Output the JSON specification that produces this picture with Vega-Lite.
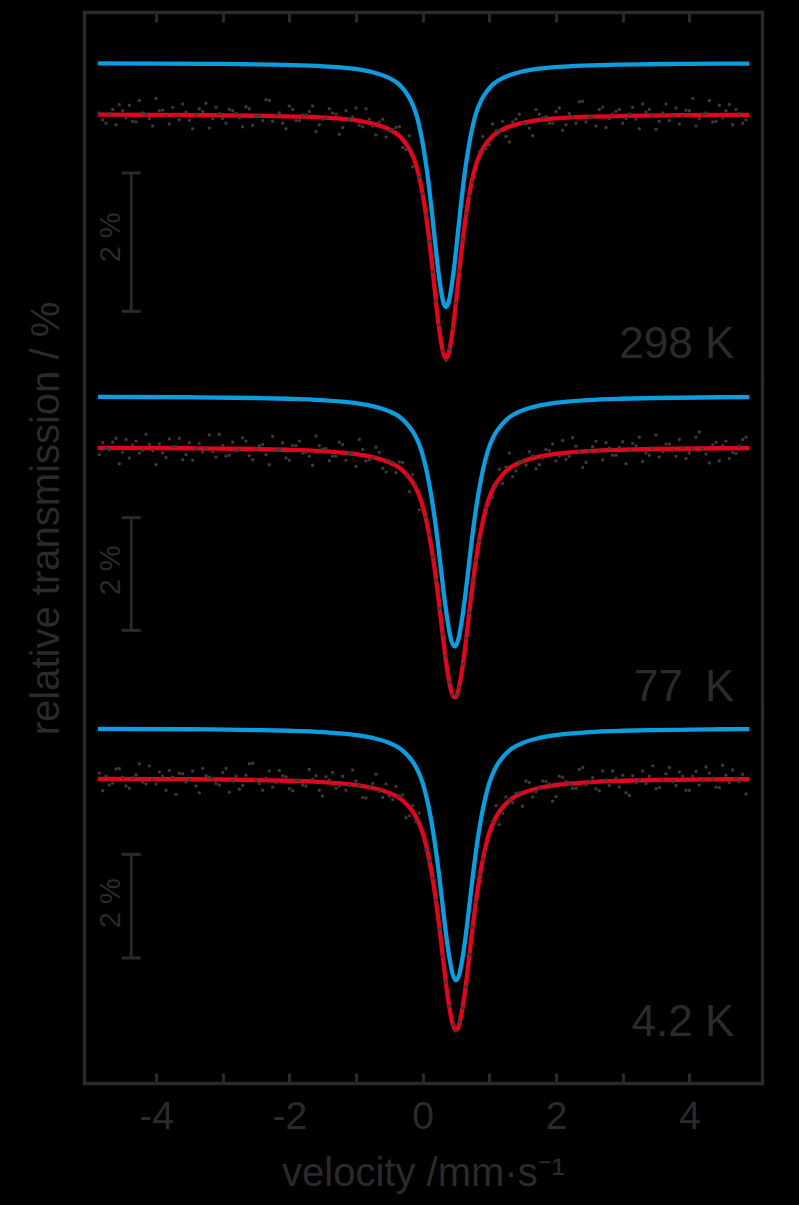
{
"$schema": "https://vega.github.io/schema/vega-lite/v6.json",
"background": "#000000",
"padding": {"left": 25, "top": 10, "right": 40, "bottom": 20},
"spacing": 0,
"bounds": "flush",
"config": {
  "view": {"stroke": null},
  "axis": {"domainColor": "#2a2a2a", "domainWidth": 3.3, "domainCap": "square", "tickColor": "#2a2a2a", "tickWidth": 3, "tickSize": -10, "grid": false,
           "labelColor": "#2a2a2a", "titleColor": "#2a2a2a", "labelFont": "Liberation Sans", "titleFont": "Liberation Sans",
           "labelFontSize": 39, "titleFontSize": 40, "titleFontWeight": "normal", "labelOverlap": false, "labelFlush": false},
  "text": {"font": "Liberation Sans", "color": "#2a2a2a"}
},
"datasets": {
"fit": [
{"p":1,"s":"fit","v":-4.87,"t":99.994},{"p":1,"s":"fit","v":-3.17,"t":99.987},{"p":1,"s":"fit","v":-2.29,"t":99.976},{"p":1,"s":"fit","v":-1.85,"t":99.966},{"p":1,"s":"fit","v":-1.41,"t":99.947},{"p":1,"s":"fit","v":-0.97,"t":99.907},{"p":1,"s":"fit","v":-0.75,"t":99.866},{"p":1,"s":"fit","v":-0.53,"t":99.795},{"p":1,"s":"fit","v":-0.354,"t":99.69},{"p":1,"s":"fit","v":-0.266,"t":99.594},{"p":1,"s":"fit","v":-0.178,"t":99.46},{"p":1,"s":"fit","v":-0.09,"t":99.238},{"p":1,"s":"fit","v":-0.002,"t":98.853},{"p":1,"s":"fit","v":0.042,"t":98.592},{"p":1,"s":"fit","v":0.086,"t":98.282},{"p":1,"s":"fit","v":0.13,"t":97.918},{"p":1,"s":"fit","v":0.174,"t":97.52},{"p":1,"s":"fit","v":0.218,"t":97.125},{"p":1,"s":"fit","v":0.262,"t":96.797},{"p":1,"s":"fit","v":0.306,"t":96.557},{"p":1,"s":"fit","v":0.35,"t":96.472},{"p":1,"s":"fit","v":0.394,"t":96.557},{"p":1,"s":"fit","v":0.438,"t":96.797},{"p":1,"s":"fit","v":0.482,"t":97.125},{"p":1,"s":"fit","v":0.526,"t":97.52},{"p":1,"s":"fit","v":0.57,"t":97.918},{"p":1,"s":"fit","v":0.614,"t":98.282},{"p":1,"s":"fit","v":0.658,"t":98.592},{"p":1,"s":"fit","v":0.702,"t":98.853},{"p":1,"s":"fit","v":0.79,"t":99.238},{"p":1,"s":"fit","v":0.878,"t":99.46},{"p":1,"s":"fit","v":0.966,"t":99.594},{"p":1,"s":"fit","v":1.054,"t":99.69},{"p":1,"s":"fit","v":1.23,"t":99.795},{"p":1,"s":"fit","v":1.45,"t":99.866},{"p":1,"s":"fit","v":1.67,"t":99.907},{"p":1,"s":"fit","v":2.11,"t":99.947},{"p":1,"s":"fit","v":2.55,"t":99.966},{"p":1,"s":"fit","v":2.99,"t":99.976},{"p":1,"s":"fit","v":3.87,"t":99.987},{"p":1,"s":"fit","v":4.9,"t":99.992},
{"p":1,"s":"sub","v":-4.87,"t":100.736},{"p":1,"s":"sub","v":-3.17,"t":100.729},{"p":1,"s":"sub","v":-2.29,"t":100.718},{"p":1,"s":"sub","v":-1.85,"t":100.708},{"p":1,"s":"sub","v":-1.41,"t":100.689},{"p":1,"s":"sub","v":-0.97,"t":100.649},{"p":1,"s":"sub","v":-0.75,"t":100.608},{"p":1,"s":"sub","v":-0.53,"t":100.537},{"p":1,"s":"sub","v":-0.354,"t":100.432},{"p":1,"s":"sub","v":-0.266,"t":100.336},{"p":1,"s":"sub","v":-0.178,"t":100.202},{"p":1,"s":"sub","v":-0.09,"t":99.98},{"p":1,"s":"sub","v":-0.002,"t":99.595},{"p":1,"s":"sub","v":0.042,"t":99.334},{"p":1,"s":"sub","v":0.086,"t":99.024},{"p":1,"s":"sub","v":0.13,"t":98.66},{"p":1,"s":"sub","v":0.174,"t":98.262},{"p":1,"s":"sub","v":0.218,"t":97.867},{"p":1,"s":"sub","v":0.262,"t":97.539},{"p":1,"s":"sub","v":0.306,"t":97.299},{"p":1,"s":"sub","v":0.35,"t":97.214},{"p":1,"s":"sub","v":0.394,"t":97.299},{"p":1,"s":"sub","v":0.438,"t":97.539},{"p":1,"s":"sub","v":0.482,"t":97.867},{"p":1,"s":"sub","v":0.526,"t":98.262},{"p":1,"s":"sub","v":0.57,"t":98.66},{"p":1,"s":"sub","v":0.614,"t":99.024},{"p":1,"s":"sub","v":0.658,"t":99.334},{"p":1,"s":"sub","v":0.702,"t":99.595},{"p":1,"s":"sub","v":0.79,"t":99.98},{"p":1,"s":"sub","v":0.878,"t":100.202},{"p":1,"s":"sub","v":0.966,"t":100.336},{"p":1,"s":"sub","v":1.054,"t":100.432},{"p":1,"s":"sub","v":1.23,"t":100.537},{"p":1,"s":"sub","v":1.45,"t":100.608},{"p":1,"s":"sub","v":1.67,"t":100.649},{"p":1,"s":"sub","v":2.11,"t":100.689},{"p":1,"s":"sub","v":2.55,"t":100.708},{"p":1,"s":"sub","v":2.99,"t":100.718},{"p":1,"s":"sub","v":3.87,"t":100.729},{"p":1,"s":"sub","v":4.9,"t":100.734},
{"p":2,"s":"fit","v":-4.87,"t":99.991},{"p":2,"s":"fit","v":-3.52,"t":99.983},{"p":2,"s":"fit","v":-2.52,"t":99.97},{"p":2,"s":"fit","v":-2.02,"t":99.957},{"p":2,"s":"fit","v":-1.52,"t":99.933},{"p":2,"s":"fit","v":-1.02,"t":99.882},{"p":2,"s":"fit","v":-0.77,"t":99.831},{"p":2,"s":"fit","v":-0.52,"t":99.742},{"p":2,"s":"fit","v":-0.32,"t":99.609},{"p":2,"s":"fit","v":-0.22,"t":99.489},{"p":2,"s":"fit","v":-0.12,"t":99.321},{"p":2,"s":"fit","v":-0.02,"t":99.041},{"p":2,"s":"fit","v":0.08,"t":98.557},{"p":2,"s":"fit","v":0.13,"t":98.228},{"p":2,"s":"fit","v":0.18,"t":97.838},{"p":2,"s":"fit","v":0.23,"t":97.38},{"p":2,"s":"fit","v":0.28,"t":96.879},{"p":2,"s":"fit","v":0.33,"t":96.381},{"p":2,"s":"fit","v":0.38,"t":95.968},{"p":2,"s":"fit","v":0.43,"t":95.667},{"p":2,"s":"fit","v":0.48,"t":95.56},{"p":2,"s":"fit","v":0.53,"t":95.667},{"p":2,"s":"fit","v":0.58,"t":95.968},{"p":2,"s":"fit","v":0.63,"t":96.381},{"p":2,"s":"fit","v":0.68,"t":96.879},{"p":2,"s":"fit","v":0.73,"t":97.38},{"p":2,"s":"fit","v":0.78,"t":97.838},{"p":2,"s":"fit","v":0.83,"t":98.228},{"p":2,"s":"fit","v":0.88,"t":98.557},{"p":2,"s":"fit","v":0.98,"t":99.041},{"p":2,"s":"fit","v":1.08,"t":99.321},{"p":2,"s":"fit","v":1.18,"t":99.489},{"p":2,"s":"fit","v":1.28,"t":99.609},{"p":2,"s":"fit","v":1.48,"t":99.742},{"p":2,"s":"fit","v":1.73,"t":99.831},{"p":2,"s":"fit","v":1.98,"t":99.882},{"p":2,"s":"fit","v":2.48,"t":99.933},{"p":2,"s":"fit","v":2.98,"t":99.957},{"p":2,"s":"fit","v":3.48,"t":99.97},{"p":2,"s":"fit","v":4.48,"t":99.983},{"p":2,"s":"fit","v":4.9,"t":99.986},
{"p":2,"s":"sub","v":-4.87,"t":100.896},{"p":2,"s":"sub","v":-3.52,"t":100.888},{"p":2,"s":"sub","v":-2.52,"t":100.875},{"p":2,"s":"sub","v":-2.02,"t":100.862},{"p":2,"s":"sub","v":-1.52,"t":100.838},{"p":2,"s":"sub","v":-1.02,"t":100.787},{"p":2,"s":"sub","v":-0.77,"t":100.736},{"p":2,"s":"sub","v":-0.52,"t":100.647},{"p":2,"s":"sub","v":-0.32,"t":100.514},{"p":2,"s":"sub","v":-0.22,"t":100.394},{"p":2,"s":"sub","v":-0.12,"t":100.226},{"p":2,"s":"sub","v":-0.02,"t":99.946},{"p":2,"s":"sub","v":0.08,"t":99.462},{"p":2,"s":"sub","v":0.13,"t":99.133},{"p":2,"s":"sub","v":0.18,"t":98.743},{"p":2,"s":"sub","v":0.23,"t":98.285},{"p":2,"s":"sub","v":0.28,"t":97.784},{"p":2,"s":"sub","v":0.33,"t":97.286},{"p":2,"s":"sub","v":0.38,"t":96.873},{"p":2,"s":"sub","v":0.43,"t":96.572},{"p":2,"s":"sub","v":0.48,"t":96.465},{"p":2,"s":"sub","v":0.53,"t":96.572},{"p":2,"s":"sub","v":0.58,"t":96.873},{"p":2,"s":"sub","v":0.63,"t":97.286},{"p":2,"s":"sub","v":0.68,"t":97.784},{"p":2,"s":"sub","v":0.73,"t":98.285},{"p":2,"s":"sub","v":0.78,"t":98.743},{"p":2,"s":"sub","v":0.83,"t":99.133},{"p":2,"s":"sub","v":0.88,"t":99.462},{"p":2,"s":"sub","v":0.98,"t":99.946},{"p":2,"s":"sub","v":1.08,"t":100.226},{"p":2,"s":"sub","v":1.18,"t":100.394},{"p":2,"s":"sub","v":1.28,"t":100.514},{"p":2,"s":"sub","v":1.48,"t":100.647},{"p":2,"s":"sub","v":1.73,"t":100.736},{"p":2,"s":"sub","v":1.98,"t":100.787},{"p":2,"s":"sub","v":2.48,"t":100.838},{"p":2,"s":"sub","v":2.98,"t":100.862},{"p":2,"s":"sub","v":3.48,"t":100.875},{"p":2,"s":"sub","v":4.48,"t":100.888},{"p":2,"s":"sub","v":4.9,"t":100.891},
{"p":3,"s":"fit","v":-4.87,"t":99.99},{"p":3,"s":"fit","v":-3.5,"t":99.982},{"p":3,"s":"fit","v":-2.5,"t":99.967},{"p":3,"s":"fit","v":-2.0,"t":99.953},{"p":3,"s":"fit","v":-1.5,"t":99.927},{"p":3,"s":"fit","v":-1.0,"t":99.871},{"p":3,"s":"fit","v":-0.75,"t":99.815},{"p":3,"s":"fit","v":-0.5,"t":99.718},{"p":3,"s":"fit","v":-0.3,"t":99.572},{"p":3,"s":"fit","v":-0.2,"t":99.441},{"p":3,"s":"fit","v":-0.1,"t":99.256},{"p":3,"s":"fit","v":0.0,"t":98.95},{"p":3,"s":"fit","v":0.1,"t":98.42},{"p":3,"s":"fit","v":0.15,"t":98.061},{"p":3,"s":"fit","v":0.2,"t":97.633},{"p":3,"s":"fit","v":0.25,"t":97.133},{"p":3,"s":"fit","v":0.3,"t":96.583},{"p":3,"s":"fit","v":0.35,"t":96.039},{"p":3,"s":"fit","v":0.4,"t":95.587},{"p":3,"s":"fit","v":0.45,"t":95.257},{"p":3,"s":"fit","v":0.5,"t":95.14},{"p":3,"s":"fit","v":0.55,"t":95.257},{"p":3,"s":"fit","v":0.6,"t":95.587},{"p":3,"s":"fit","v":0.65,"t":96.039},{"p":3,"s":"fit","v":0.7,"t":96.583},{"p":3,"s":"fit","v":0.75,"t":97.133},{"p":3,"s":"fit","v":0.8,"t":97.633},{"p":3,"s":"fit","v":0.85,"t":98.061},{"p":3,"s":"fit","v":0.9,"t":98.42},{"p":3,"s":"fit","v":1.0,"t":98.95},{"p":3,"s":"fit","v":1.1,"t":99.256},{"p":3,"s":"fit","v":1.2,"t":99.441},{"p":3,"s":"fit","v":1.3,"t":99.572},{"p":3,"s":"fit","v":1.5,"t":99.718},{"p":3,"s":"fit","v":1.75,"t":99.815},{"p":3,"s":"fit","v":2.0,"t":99.871},{"p":3,"s":"fit","v":2.5,"t":99.927},{"p":3,"s":"fit","v":3.0,"t":99.953},{"p":3,"s":"fit","v":3.5,"t":99.967},{"p":3,"s":"fit","v":4.5,"t":99.982},{"p":3,"s":"fit","v":4.9,"t":99.984},
{"p":3,"s":"sub","v":-4.87,"t":100.954},{"p":3,"s":"sub","v":-3.5,"t":100.946},{"p":3,"s":"sub","v":-2.5,"t":100.931},{"p":3,"s":"sub","v":-2.0,"t":100.917},{"p":3,"s":"sub","v":-1.5,"t":100.891},{"p":3,"s":"sub","v":-1.0,"t":100.835},{"p":3,"s":"sub","v":-0.75,"t":100.779},{"p":3,"s":"sub","v":-0.5,"t":100.682},{"p":3,"s":"sub","v":-0.3,"t":100.536},{"p":3,"s":"sub","v":-0.2,"t":100.405},{"p":3,"s":"sub","v":-0.1,"t":100.22},{"p":3,"s":"sub","v":0.0,"t":99.914},{"p":3,"s":"sub","v":0.1,"t":99.384},{"p":3,"s":"sub","v":0.15,"t":99.025},{"p":3,"s":"sub","v":0.2,"t":98.597},{"p":3,"s":"sub","v":0.25,"t":98.097},{"p":3,"s":"sub","v":0.3,"t":97.547},{"p":3,"s":"sub","v":0.35,"t":97.003},{"p":3,"s":"sub","v":0.4,"t":96.551},{"p":3,"s":"sub","v":0.45,"t":96.221},{"p":3,"s":"sub","v":0.5,"t":96.104},{"p":3,"s":"sub","v":0.55,"t":96.221},{"p":3,"s":"sub","v":0.6,"t":96.551},{"p":3,"s":"sub","v":0.65,"t":97.003},{"p":3,"s":"sub","v":0.7,"t":97.547},{"p":3,"s":"sub","v":0.75,"t":98.097},{"p":3,"s":"sub","v":0.8,"t":98.597},{"p":3,"s":"sub","v":0.85,"t":99.025},{"p":3,"s":"sub","v":0.9,"t":99.384},{"p":3,"s":"sub","v":1.0,"t":99.914},{"p":3,"s":"sub","v":1.1,"t":100.22},{"p":3,"s":"sub","v":1.2,"t":100.405},{"p":3,"s":"sub","v":1.3,"t":100.536},{"p":3,"s":"sub","v":1.5,"t":100.682},{"p":3,"s":"sub","v":1.75,"t":100.779},{"p":3,"s":"sub","v":2.0,"t":100.835},{"p":3,"s":"sub","v":2.5,"t":100.891},{"p":3,"s":"sub","v":3.0,"t":100.917},{"p":3,"s":"sub","v":3.5,"t":100.931},{"p":3,"s":"sub","v":4.5,"t":100.946},{"p":3,"s":"sub","v":4.9,"t":100.948}
],
"pts": [
{"p":1,"v":-4.85,"t":100.02},{"p":1,"v":-4.75,"t":99.87},{"p":1,"v":-4.65,"t":100.07},{"p":1,"v":-4.55,"t":100.14},{"p":1,"v":-4.45,"t":99.95},{"p":1,"v":-4.35,"t":99.9},{"p":1,"v":-4.25,"t":100.2},{"p":1,"v":-4.15,"t":100.0},{"p":1,"v":-4.05,"t":99.83},{"p":1,"v":-3.95,"t":100.05},
{"p":1,"v":-3.85,"t":99.97},{"p":1,"v":-3.75,"t":100.1},{"p":1,"v":-3.65,"t":99.92},{"p":1,"v":-3.55,"t":100.03},{"p":1,"v":-3.45,"t":99.79},{"p":1,"v":-3.35,"t":100.08},{"p":1,"v":-3.25,"t":100.16},{"p":1,"v":-3.15,"t":99.94},{"p":1,"v":-3.05,"t":100.01},{"p":1,"v":-2.95,"t":99.87},
{"p":1,"v":-2.85,"t":100.05},{"p":1,"v":-2.75,"t":99.95},{"p":1,"v":-2.65,"t":100.11},{"p":1,"v":-2.55,"t":99.84},{"p":1,"v":-2.45,"t":99.98},{"p":1,"v":-2.35,"t":100.21},{"p":1,"v":-2.25,"t":99.9},{"p":1,"v":-2.15,"t":100.02},{"p":1,"v":-2.05,"t":99.79},{"p":1,"v":-1.95,"t":100.07},
{"p":1,"v":-1.85,"t":99.91},{"p":1,"v":-1.75,"t":99.99},{"p":1,"v":-1.65,"t":100.12},{"p":1,"v":-1.55,"t":99.85},{"p":1,"v":-1.45,"t":99.94},{"p":1,"v":-1.35,"t":100.02},{"p":1,"v":-1.25,"t":99.71},{"p":1,"v":-1.15,"t":100.05},{"p":1,"v":-1.05,"t":99.96},{"p":1,"v":-0.95,"t":99.84},
{"p":1,"v":-0.85,"t":100.08},{"p":1,"v":-0.75,"t":99.83},{"p":1,"v":-0.65,"t":99.89},{"p":1,"v":-0.55,"t":99.67},{"p":1,"v":-0.45,"t":99.78},{"p":1,"v":-0.35,"t":99.82},{"p":1,"v":-0.25,"t":99.49},{"p":1,"v":-0.15,"t":99.24},{"p":1,"v":-0.05,"t":99.09},{"p":1,"v":0.05,"t":98.54},
{"p":1,"v":0.15,"t":97.72},{"p":1,"v":0.25,"t":96.95},{"p":1,"v":0.35,"t":96.44},{"p":1,"v":0.45,"t":96.91},{"p":1,"v":0.55,"t":97.73},{"p":1,"v":0.65,"t":98.57},{"p":1,"v":0.75,"t":99.02},{"p":1,"v":0.85,"t":99.46},{"p":1,"v":0.95,"t":99.5},{"p":1,"v":1.05,"t":99.86},
{"p":1,"v":1.15,"t":99.76},{"p":1,"v":1.25,"t":99.68},{"p":1,"v":1.35,"t":99.89},{"p":1,"v":1.45,"t":100.0},{"p":1,"v":1.55,"t":99.86},{"p":1,"v":1.65,"t":99.69},{"p":1,"v":1.75,"t":100.0},{"p":1,"v":1.85,"t":99.97},{"p":1,"v":1.95,"t":99.87},{"p":1,"v":2.05,"t":100.09},
{"p":1,"v":2.15,"t":99.85},{"p":1,"v":2.25,"t":99.97},{"p":1,"v":2.35,"t":100.18},{"p":1,"v":2.45,"t":99.89},{"p":1,"v":2.55,"t":99.96},{"p":1,"v":2.65,"t":100.07},{"p":1,"v":2.75,"t":99.81},{"p":1,"v":2.85,"t":100.0},{"p":1,"v":2.95,"t":100.07},{"p":1,"v":3.05,"t":99.94},
{"p":1,"v":3.15,"t":100.1},{"p":1,"v":3.25,"t":99.79},{"p":1,"v":3.35,"t":100.03},{"p":1,"v":3.45,"t":99.99},{"p":1,"v":3.55,"t":99.9},{"p":1,"v":3.65,"t":100.15},{"p":1,"v":3.75,"t":99.97},{"p":1,"v":3.85,"t":99.86},{"p":1,"v":3.95,"t":100.06},{"p":1,"v":4.05,"t":100.23},
{"p":1,"v":4.15,"t":99.94},{"p":1,"v":4.25,"t":100.02},{"p":1,"v":4.35,"t":99.89},{"p":1,"v":4.45,"t":100.13},{"p":1,"v":4.55,"t":100.05},{"p":1,"v":4.65,"t":99.85},{"p":1,"v":4.75,"t":100.01},{"p":1,"v":4.85,"t":99.92},
{"p":1,"v":0.0,"t":98.85},{"p":1,"v":0.1,"t":98.16},{"p":1,"v":0.2,"t":97.3},{"p":1,"v":0.3,"t":96.58},{"p":1,"v":0.4,"t":96.61},{"p":1,"v":0.5,"t":97.27},{"p":1,"v":0.6,"t":98.19},{"p":1,"v":0.7,"t":98.82},
{"p":1,"v":-4.8,"t":99.92},{"p":1,"v":-4.7,"t":100.01},{"p":1,"v":-4.6,"t":99.85},{"p":1,"v":-4.5,"t":100.05},{"p":1,"v":-4.4,"t":100.13},{"p":1,"v":-4.3,"t":99.89},{"p":1,"v":-4.2,"t":100.02},{"p":1,"v":-4.1,"t":99.94},{"p":1,"v":-4.0,"t":100.23},{"p":1,"v":-3.9,"t":100.06},
{"p":1,"v":-3.8,"t":99.86},{"p":1,"v":-3.7,"t":99.97},{"p":1,"v":-3.6,"t":100.15},{"p":1,"v":-3.5,"t":99.91},{"p":1,"v":-3.4,"t":100.0},{"p":1,"v":-3.3,"t":100.04},{"p":1,"v":-3.2,"t":99.8},{"p":1,"v":-3.1,"t":100.1},{"p":1,"v":-3.0,"t":99.94},{"p":1,"v":-2.9,"t":100.07},
{"p":1,"v":-2.8,"t":100.01},{"p":1,"v":-2.7,"t":99.82},{"p":1,"v":-2.6,"t":100.08},{"p":1,"v":-2.5,"t":99.97},{"p":1,"v":-2.4,"t":99.91},{"p":1,"v":-2.3,"t":100.2},{"p":1,"v":-2.2,"t":99.99},{"p":1,"v":-2.1,"t":99.87},{"p":1,"v":-2.0,"t":100.12},{"p":1,"v":-1.9,"t":99.91},
{"p":1,"v":-1.8,"t":99.99},{"p":1,"v":-1.7,"t":100.04},{"p":1,"v":-1.6,"t":99.75},{"p":1,"v":-1.5,"t":99.93},{"p":1,"v":-1.4,"t":100.08},{"p":1,"v":-1.3,"t":100.0},{"p":1,"v":-1.2,"t":99.81},{"p":1,"v":-1.1,"t":99.92},{"p":1,"v":-1.0,"t":100.09},{"p":1,"v":-0.9,"t":99.82},
{"p":1,"v":-0.8,"t":99.93},{"p":1,"v":-0.7,"t":99.7},{"p":1,"v":-0.6,"t":99.93},{"p":1,"v":-0.5,"t":99.76},{"p":1,"v":-0.4,"t":99.81},{"p":1,"v":-0.3,"t":99.52},{"p":1,"v":-0.2,"t":99.69},
{"p":1,"v":0.9,"t":99.68},{"p":1,"v":1.0,"t":99.56},{"p":1,"v":1.1,"t":99.76},{"p":1,"v":1.2,"t":99.9},{"p":1,"v":1.3,"t":99.6},{"p":1,"v":1.4,"t":99.93},{"p":1,"v":1.5,"t":99.87},{"p":1,"v":1.6,"t":99.8},{"p":1,"v":1.7,"t":100.07},{"p":1,"v":1.8,"t":99.95},
{"p":1,"v":1.9,"t":99.87},{"p":1,"v":2.0,"t":100.04},{"p":1,"v":2.1,"t":99.77},{"p":1,"v":2.2,"t":100.01},{"p":1,"v":2.3,"t":99.87},{"p":1,"v":2.4,"t":100.19},{"p":1,"v":2.5,"t":99.96},{"p":1,"v":2.6,"t":99.83},{"p":1,"v":2.7,"t":100.1},{"p":1,"v":2.8,"t":99.94},
{"p":1,"v":2.9,"t":100.04},{"p":1,"v":3.0,"t":99.87},{"p":1,"v":3.1,"t":100.0},{"p":1,"v":3.2,"t":99.93},{"p":1,"v":3.3,"t":100.15},{"p":1,"v":3.4,"t":100.07},{"p":1,"v":3.5,"t":99.78},{"p":1,"v":3.6,"t":100.02},{"p":1,"v":3.7,"t":99.91},{"p":1,"v":3.8,"t":100.09},
{"p":1,"v":3.9,"t":99.97},{"p":1,"v":4.0,"t":100.05},{"p":1,"v":4.1,"t":99.83},{"p":1,"v":4.2,"t":100.0},{"p":1,"v":4.3,"t":100.2},{"p":1,"v":4.4,"t":99.9},{"p":1,"v":4.5,"t":99.95},{"p":1,"v":4.6,"t":100.14},{"p":1,"v":4.7,"t":100.07},{"p":1,"v":4.8,"t":99.87},
{"p":2,"v":-4.85,"t":99.87},{"p":2,"v":-4.75,"t":99.98},{"p":2,"v":-4.65,"t":100.09},{"p":2,"v":-4.55,"t":99.71},{"p":2,"v":-4.45,"t":100.14},{"p":2,"v":-4.35,"t":100.04},{"p":2,"v":-4.25,"t":99.9},{"p":2,"v":-4.15,"t":100.23},{"p":2,"v":-4.05,"t":99.94},{"p":2,"v":-3.95,"t":100.06},
{"p":2,"v":-3.85,"t":99.82},{"p":2,"v":-3.75,"t":100.01},{"p":2,"v":-3.65,"t":100.16},{"p":2,"v":-3.55,"t":99.87},{"p":2,"v":-3.45,"t":99.77},{"p":2,"v":-3.35,"t":100.07},{"p":2,"v":-3.25,"t":99.99},{"p":2,"v":-3.15,"t":99.92},{"p":2,"v":-3.05,"t":100.23},{"p":2,"v":-2.95,"t":99.84},
{"p":2,"v":-2.85,"t":100.09},{"p":2,"v":-2.75,"t":99.95},{"p":2,"v":-2.65,"t":100.11},{"p":2,"v":-2.55,"t":99.78},{"p":2,"v":-2.45,"t":100.03},{"p":2,"v":-2.35,"t":99.87},{"p":2,"v":-2.25,"t":100.19},{"p":2,"v":-2.15,"t":99.96},{"p":2,"v":-2.05,"t":99.81},{"p":2,"v":-1.95,"t":100.03},
{"p":2,"v":-1.85,"t":100.11},{"p":2,"v":-1.75,"t":99.91},{"p":2,"v":-1.65,"t":99.68},{"p":2,"v":-1.55,"t":100.03},{"p":2,"v":-1.45,"t":99.98},{"p":2,"v":-1.35,"t":99.84},{"p":2,"v":-1.25,"t":100.09},{"p":2,"v":-1.15,"t":99.77},{"p":2,"v":-1.05,"t":99.91},{"p":2,"v":-0.95,"t":100.14},
{"p":2,"v":-0.85,"t":99.76},{"p":2,"v":-0.75,"t":99.81},{"p":2,"v":-0.65,"t":99.91},{"p":2,"v":-0.55,"t":99.56},{"p":2,"v":-0.45,"t":99.73},{"p":2,"v":-0.35,"t":99.74},{"p":2,"v":-0.25,"t":99.49},{"p":2,"v":-0.15,"t":99.52},{"p":2,"v":-0.05,"t":98.89},{"p":2,"v":0.05,"t":98.76},
{"p":2,"v":0.15,"t":98.06},{"p":2,"v":0.25,"t":97.14},{"p":2,"v":0.35,"t":96.3},{"p":2,"v":0.45,"t":95.62},{"p":2,"v":0.55,"t":95.74},{"p":2,"v":0.65,"t":96.61},{"p":2,"v":0.75,"t":97.65},{"p":2,"v":0.85,"t":98.34},{"p":2,"v":0.95,"t":98.93},{"p":2,"v":1.05,"t":99.11},
{"p":2,"v":1.15,"t":99.61},{"p":2,"v":1.25,"t":99.65},{"p":2,"v":1.35,"t":99.48},{"p":2,"v":1.45,"t":99.75},{"p":2,"v":1.55,"t":99.68},{"p":2,"v":1.65,"t":99.84},{"p":2,"v":1.75,"t":99.69},{"p":2,"v":1.85,"t":99.96},{"p":2,"v":1.95,"t":100.06},{"p":2,"v":2.05,"t":99.84},
{"p":2,"v":2.15,"t":99.79},{"p":2,"v":2.25,"t":100.17},{"p":2,"v":2.35,"t":99.93},{"p":2,"v":2.45,"t":99.73},{"p":2,"v":2.55,"t":100.01},{"p":2,"v":2.65,"t":99.92},{"p":2,"v":2.75,"t":100.08},{"p":2,"v":2.85,"t":99.86},{"p":2,"v":2.95,"t":100.0},{"p":2,"v":3.05,"t":99.71},
{"p":2,"v":3.15,"t":100.07},{"p":2,"v":3.25,"t":100.18},{"p":2,"v":3.35,"t":99.9},{"p":2,"v":3.45,"t":99.99},{"p":2,"v":3.55,"t":99.83},{"p":2,"v":3.65,"t":100.06},{"p":2,"v":3.75,"t":99.94},{"p":2,"v":3.85,"t":100.14},{"p":2,"v":3.95,"t":99.8},{"p":2,"v":4.05,"t":99.98},
{"p":2,"v":4.15,"t":100.27},{"p":2,"v":4.25,"t":99.88},{"p":2,"v":4.35,"t":100.04},{"p":2,"v":4.45,"t":99.76},{"p":2,"v":4.55,"t":100.11},{"p":2,"v":4.65,"t":99.91},{"p":2,"v":4.75,"t":100.02},{"p":2,"v":4.85,"t":100.18},
{"p":2,"v":0.1,"t":98.45},{"p":2,"v":0.2,"t":97.64},{"p":2,"v":0.3,"t":96.69},{"p":2,"v":0.4,"t":95.83},{"p":2,"v":0.5,"t":95.61},{"p":2,"v":0.6,"t":96.15},{"p":2,"v":0.7,"t":97.06},{"p":2,"v":0.8,"t":98.0},
{"p":2,"v":-4.8,"t":100.08},{"p":2,"v":-4.7,"t":99.96},{"p":2,"v":-4.6,"t":100.16},{"p":2,"v":-4.5,"t":99.91},{"p":2,"v":-4.4,"t":99.81},{"p":2,"v":-4.3,"t":100.11},{"p":2,"v":-4.2,"t":99.95},{"p":2,"v":-4.1,"t":100.05},{"p":2,"v":-4.0,"t":99.69},{"p":2,"v":-3.9,"t":99.9},
{"p":2,"v":-3.8,"t":100.15},{"p":2,"v":-3.7,"t":100.01},{"p":2,"v":-3.6,"t":99.78},{"p":2,"v":-3.5,"t":100.08},{"p":2,"v":-3.4,"t":99.97},{"p":2,"v":-3.3,"t":99.92},{"p":2,"v":-3.2,"t":100.22},{"p":2,"v":-3.1,"t":99.83},{"p":2,"v":-3.0,"t":100.03},{"p":2,"v":-2.9,"t":99.86},
{"p":2,"v":-2.8,"t":99.94},{"p":2,"v":-2.7,"t":100.17},{"p":2,"v":-2.6,"t":99.85},{"p":2,"v":-2.5,"t":99.98},{"p":2,"v":-2.4,"t":100.05},{"p":2,"v":-2.3,"t":99.69},{"p":2,"v":-2.2,"t":99.94},{"p":2,"v":-2.1,"t":100.08},{"p":2,"v":-2.0,"t":99.77},{"p":2,"v":-1.9,"t":100.03},
{"p":2,"v":-1.8,"t":99.9},{"p":2,"v":-1.7,"t":99.84},{"p":2,"v":-1.6,"t":100.2},{"p":2,"v":-1.5,"t":99.97},{"p":2,"v":-1.4,"t":99.76},{"p":2,"v":-1.3,"t":99.84},{"p":2,"v":-1.2,"t":100.05},{"p":2,"v":-1.1,"t":99.89},{"p":2,"v":-1.0,"t":99.66},{"p":2,"v":-0.9,"t":99.96},
{"p":2,"v":-0.8,"t":99.78},{"p":2,"v":-0.7,"t":100.0},{"p":2,"v":-0.6,"t":99.63},{"p":2,"v":-0.5,"t":99.76},{"p":2,"v":-0.4,"t":99.55},{"p":2,"v":-0.3,"t":99.73},{"p":2,"v":-0.2,"t":99.21},{"p":2,"v":-0.1,"t":99.33},
{"p":2,"v":1.1,"t":99.31},{"p":2,"v":1.2,"t":99.36},{"p":2,"v":1.3,"t":99.9},{"p":2,"v":1.4,"t":99.58},{"p":2,"v":1.5,"t":99.76},{"p":2,"v":1.6,"t":99.92},{"p":2,"v":1.7,"t":99.62},{"p":2,"v":1.8,"t":99.81},{"p":2,"v":1.9,"t":99.94},{"p":2,"v":2.0,"t":99.76},
{"p":2,"v":2.1,"t":100.12},{"p":2,"v":2.2,"t":99.84},{"p":2,"v":2.3,"t":100.02},{"p":2,"v":2.4,"t":99.64},{"p":2,"v":2.5,"t":99.93},{"p":2,"v":2.6,"t":100.11},{"p":2,"v":2.7,"t":99.78},{"p":2,"v":2.8,"t":99.99},{"p":2,"v":2.9,"t":99.86},{"p":2,"v":3.0,"t":100.1},
{"p":2,"v":3.1,"t":99.94},{"p":2,"v":3.2,"t":100.03},{"p":2,"v":3.3,"t":99.75},{"p":2,"v":3.4,"t":99.86},{"p":2,"v":3.5,"t":100.22},{"p":2,"v":3.6,"t":99.92},{"p":2,"v":3.7,"t":100.06},{"p":2,"v":3.8,"t":99.84},{"p":2,"v":3.9,"t":100.0},{"p":2,"v":4.0,"t":99.9},
{"p":2,"v":4.1,"t":100.18},{"p":2,"v":4.2,"t":99.97},{"p":2,"v":4.3,"t":99.72},{"p":2,"v":4.4,"t":100.09},{"p":2,"v":4.5,"t":100.03},{"p":2,"v":4.6,"t":99.8},{"p":2,"v":4.7,"t":99.89},{"p":2,"v":4.8,"t":100.14},
{"p":3,"v":-4.85,"t":100.1},{"p":3,"v":-4.75,"t":100.04},{"p":3,"v":-4.65,"t":99.91},{"p":3,"v":-4.55,"t":100.19},{"p":3,"v":-4.45,"t":99.85},{"p":3,"v":-4.35,"t":100.01},{"p":3,"v":-4.25,"t":100.28},{"p":3,"v":-4.15,"t":99.89},{"p":3,"v":-4.05,"t":99.97},{"p":3,"v":-3.95,"t":100.12},
{"p":3,"v":-3.85,"t":99.77},{"p":3,"v":-3.75,"t":100.02},{"p":3,"v":-3.65,"t":100.1},{"p":3,"v":-3.55,"t":99.93},{"p":3,"v":-3.45,"t":100.14},{"p":3,"v":-3.35,"t":99.72},{"p":3,"v":-3.25,"t":100.05},{"p":3,"v":-3.15,"t":99.99},{"p":3,"v":-3.05,"t":99.87},{"p":3,"v":-2.95,"t":100.19},
{"p":3,"v":-2.85,"t":99.95},{"p":3,"v":-2.75,"t":99.79},{"p":3,"v":-2.65,"t":100.06},{"p":3,"v":-2.55,"t":100.29},{"p":3,"v":-2.45,"t":99.9},{"p":3,"v":-2.35,"t":100.0},{"p":3,"v":-2.25,"t":99.83},{"p":3,"v":-2.15,"t":100.15},{"p":3,"v":-2.05,"t":100.03},{"p":3,"v":-1.95,"t":99.76},
{"p":3,"v":-1.85,"t":99.97},{"p":3,"v":-1.75,"t":99.85},{"p":3,"v":-1.65,"t":99.98},{"p":3,"v":-1.55,"t":99.77},{"p":3,"v":-1.45,"t":100.03},{"p":3,"v":-1.35,"t":100.11},{"p":3,"v":-1.25,"t":99.85},{"p":3,"v":-1.15,"t":99.77},{"p":3,"v":-1.05,"t":100.16},{"p":3,"v":-0.95,"t":99.87},
{"p":3,"v":-0.85,"t":99.62},{"p":3,"v":-0.75,"t":99.9},{"p":3,"v":-0.65,"t":99.75},{"p":3,"v":-0.55,"t":99.89},{"p":3,"v":-0.45,"t":99.59},{"p":3,"v":-0.35,"t":99.66},{"p":3,"v":-0.25,"t":99.24},{"p":3,"v":-0.15,"t":99.47},{"p":3,"v":-0.05,"t":99.33},{"p":3,"v":0.05,"t":98.62},
{"p":3,"v":0.15,"t":98.07},{"p":3,"v":0.25,"t":97.09},{"p":3,"v":0.35,"t":96.07},{"p":3,"v":0.45,"t":95.25},{"p":3,"v":0.55,"t":95.31},{"p":3,"v":0.65,"t":95.98},{"p":3,"v":0.75,"t":97.13},{"p":3,"v":0.85,"t":98.15},{"p":3,"v":0.95,"t":98.58},{"p":3,"v":1.05,"t":99.17},
{"p":3,"v":1.15,"t":99.11},{"p":3,"v":1.25,"t":99.64},{"p":3,"v":1.35,"t":99.53},{"p":3,"v":1.45,"t":99.72},{"p":3,"v":1.55,"t":99.95},{"p":3,"v":1.65,"t":99.64},{"p":3,"v":1.75,"t":99.8},{"p":3,"v":1.85,"t":99.94},{"p":3,"v":1.95,"t":99.56},{"p":3,"v":2.05,"t":100.04},
{"p":3,"v":2.15,"t":99.94},{"p":3,"v":2.25,"t":99.81},{"p":3,"v":2.35,"t":100.17},{"p":3,"v":2.45,"t":99.87},{"p":3,"v":2.55,"t":100.01},{"p":3,"v":2.65,"t":99.76},{"p":3,"v":2.75,"t":99.97},{"p":3,"v":2.85,"t":100.14},{"p":3,"v":2.95,"t":99.83},{"p":3,"v":3.05,"t":99.72},
{"p":3,"v":3.15,"t":100.05},{"p":3,"v":3.25,"t":99.97},{"p":3,"v":3.35,"t":99.9},{"p":3,"v":3.45,"t":100.24},{"p":3,"v":3.55,"t":99.82},{"p":3,"v":3.65,"t":100.09},{"p":3,"v":3.75,"t":99.94},{"p":3,"v":3.85,"t":100.12},{"p":3,"v":3.95,"t":99.77},{"p":3,"v":4.05,"t":100.04},
{"p":3,"v":4.15,"t":99.87},{"p":3,"v":4.25,"t":100.22},{"p":3,"v":4.35,"t":99.98},{"p":3,"v":4.45,"t":99.82},{"p":3,"v":4.55,"t":100.06},{"p":3,"v":4.65,"t":100.16},{"p":3,"v":4.75,"t":99.94},{"p":3,"v":4.85,"t":99.7},
{"p":3,"v":0.1,"t":98.4},{"p":3,"v":0.2,"t":97.65},{"p":3,"v":0.3,"t":96.57},{"p":3,"v":0.4,"t":95.6},{"p":3,"v":0.5,"t":95.13},{"p":3,"v":0.6,"t":95.57},{"p":3,"v":0.7,"t":96.6},{"p":3,"v":0.8,"t":97.62},{"p":3,"v":0.9,"t":98.44},
{"p":3,"v":-4.8,"t":99.76},{"p":3,"v":-4.7,"t":99.87},{"p":3,"v":-4.6,"t":100.18},{"p":3,"v":-4.5,"t":100.02},{"p":3,"v":-4.4,"t":99.81},{"p":3,"v":-4.3,"t":100.07},{"p":3,"v":-4.2,"t":99.93},{"p":3,"v":-4.1,"t":100.24},{"p":3,"v":-4.0,"t":99.89},{"p":3,"v":-3.9,"t":100.04},
{"p":3,"v":-3.8,"t":100.15},{"p":3,"v":-3.7,"t":99.69},{"p":3,"v":-3.6,"t":100.09},{"p":3,"v":-3.5,"t":99.97},{"p":3,"v":-3.4,"t":99.85},{"p":3,"v":-3.3,"t":100.19},{"p":3,"v":-3.2,"t":100.02},{"p":3,"v":-3.1,"t":99.9},{"p":3,"v":-3.0,"t":100.11},{"p":3,"v":-2.9,"t":99.73},
{"p":3,"v":-2.8,"t":100.04},{"p":3,"v":-2.7,"t":99.86},{"p":3,"v":-2.6,"t":100.28},{"p":3,"v":-2.5,"t":99.97},{"p":3,"v":-2.4,"t":99.77},{"p":3,"v":-2.3,"t":100.14},{"p":3,"v":-2.2,"t":99.92},{"p":3,"v":-2.1,"t":100.05},{"p":3,"v":-2.0,"t":99.8},{"p":3,"v":-1.9,"t":99.97},
{"p":3,"v":-1.8,"t":99.87},{"p":3,"v":-1.7,"t":100.17},{"p":3,"v":-1.6,"t":100.05},{"p":3,"v":-1.5,"t":99.66},{"p":3,"v":-1.4,"t":99.97},{"p":3,"v":-1.3,"t":99.81},{"p":3,"v":-1.2,"t":100.04},{"p":3,"v":-1.1,"t":99.86},{"p":3,"v":-1.0,"t":99.95},{"p":3,"v":-0.9,"t":99.63},
{"p":3,"v":-0.8,"t":99.84},{"p":3,"v":-0.7,"t":100.08},{"p":3,"v":-0.6,"t":99.63},{"p":3,"v":-0.5,"t":99.66},{"p":3,"v":-0.4,"t":99.84},{"p":3,"v":-0.3,"t":99.68},{"p":3,"v":-0.2,"t":99.28},{"p":3,"v":-0.1,"t":99.16},
{"p":3,"v":1.1,"t":99.47},{"p":3,"v":1.2,"t":99.33},{"p":3,"v":1.3,"t":99.59},{"p":3,"v":1.4,"t":99.71},{"p":3,"v":1.5,"t":99.46},{"p":3,"v":1.6,"t":99.92},{"p":3,"v":1.7,"t":99.74},{"p":3,"v":1.8,"t":99.95},{"p":3,"v":1.9,"t":99.89},{"p":3,"v":2.0,"t":99.65},
{"p":3,"v":2.1,"t":100.02},{"p":3,"v":2.2,"t":99.88},{"p":3,"v":2.3,"t":99.81},{"p":3,"v":2.4,"t":100.21},{"p":3,"v":2.5,"t":99.95},{"p":3,"v":2.6,"t":99.8},{"p":3,"v":2.7,"t":100.14},{"p":3,"v":2.8,"t":99.86},{"p":3,"v":2.9,"t":100.0},{"p":3,"v":3.0,"t":100.06},
{"p":3,"v":3.1,"t":99.67},{"p":3,"v":3.2,"t":99.92},{"p":3,"v":3.3,"t":100.14},{"p":3,"v":3.4,"t":100.04},{"p":3,"v":3.5,"t":99.8},{"p":3,"v":3.6,"t":99.97},{"p":3,"v":3.7,"t":100.21},{"p":3,"v":3.8,"t":99.86},{"p":3,"v":3.9,"t":100.04},{"p":3,"v":4.0,"t":99.77},
{"p":3,"v":4.1,"t":100.13},{"p":3,"v":4.2,"t":99.95},{"p":3,"v":4.3,"t":100.1},{"p":3,"v":4.4,"t":99.83},{"p":3,"v":4.5,"t":100.25},{"p":3,"v":4.6,"t":99.92},{"p":3,"v":4.7,"t":100.0},{"p":3,"v":4.8,"t":100.08}
],
"bars": [
{"p":1,"v":-4.371,"v1":-4.513,"v2":-4.228,"lo":97.151,"hi":99.151,"vx":-4.675,"mid":98.221,"lab":"2 %"},
{"p":2,"v":-4.371,"v1":-4.513,"v2":-4.228,"lo":96.752,"hi":98.752,"vx":-4.675,"mid":97.817,"lab":"2 %"},
{"p":3,"v":-4.371,"v1":-4.513,"v2":-4.228,"lo":96.534,"hi":98.534,"vx":-4.675,"mid":97.59,"lab":"2 %"}
],
"labels": [
{"p":1,"v":4.674,"t":96.471,"lab":"298 K"},
{"p":2,"v":4.674,"t":95.493,"lab":"77\u2002K"},
{"p":3,"v":4.674,"t":95.024,"lab":"4.2 K"}
]
},
"vconcat": [
{
  "width": 678, "height": 366,
  "resolve": {"axis": {"y": "independent"}},
  "layer": [
    {"data": {"name": "fit"}, "transform": [{"filter": "datum.p === 1"}],
     "mark": {"type": "line", "interpolate": "monotone", "strokeWidth": 4.3},
     "encoding": {
       "x": {"field": "v", "type": "quantitative", "scale": {"domain": [-5.08, 5.09], "nice": false, "zero": false},
             "axis": {"orient": "top", "values": [-4,-3,-2,-1,0,1,2,3,4], "labels": false, "title": null}},
       "y": {"field": "t", "type": "quantitative", "scale": {"domain": [96.187, 101.479], "nice": false, "zero": false},
             "axis": {"orient": "left", "ticks": false, "labels": false, "title": null}},
       "color": {"field": "s", "type": "nominal", "scale": {"domain": ["sub", "fit"], "range": ["#0b9de0", "#e3051b"]}, "legend": null}
     }},
    {"data": {"name": "pts"}, "transform": [{"filter": "datum.p === 1"}],
     "mark": {"type": "circle", "size": 12, "color": "#3a3a3a", "opacity": 1},
     "encoding": {
       "x": {"field": "v", "type": "quantitative"},
       "y": {"field": "t", "type": "quantitative", "axis": {"orient": "right", "ticks": false, "labels": false, "title": null}}
     }},
    {"data": {"name": "bars"}, "transform": [{"filter": "datum.p === 1"}],
     "mark": {"type": "rule", "strokeWidth": 2.8, "color": "#2a2a2a"},
     "encoding": {"x": {"field": "v", "type": "quantitative"}, "y": {"field": "lo", "type": "quantitative", "axis": null}, "y2": {"field": "hi"}}},
    {"data": {"name": "bars"}, "transform": [{"filter": "datum.p === 1"}],
     "mark": {"type": "rule", "strokeWidth": 3, "color": "#2a2a2a"},
     "encoding": {"x": {"field": "v1", "type": "quantitative"}, "x2": {"field": "v2"}, "y": {"field": "lo", "type": "quantitative", "axis": null}}},
    {"data": {"name": "bars"}, "transform": [{"filter": "datum.p === 1"}],
     "mark": {"type": "rule", "strokeWidth": 3, "color": "#2a2a2a"},
     "encoding": {"x": {"field": "v1", "type": "quantitative"}, "x2": {"field": "v2"}, "y": {"field": "hi", "type": "quantitative", "axis": null}}},
    {"data": {"name": "bars"}, "transform": [{"filter": "datum.p === 1"}],
     "mark": {"type": "text", "angle": 270, "fontSize": 29, "align": "center", "baseline": "middle"},
     "encoding": {"x": {"field": "vx", "type": "quantitative"}, "y": {"field": "mid", "type": "quantitative", "axis": null}, "text": {"field": "lab"}}},
    {"data": {"name": "labels"}, "transform": [{"filter": "datum.p === 1"}],
     "mark": {"type": "text", "fontSize": 44, "align": "right", "baseline": "alphabetic"},
     "encoding": {"x": {"field": "v", "type": "quantitative"}, "y": {"field": "t", "type": "quantitative", "axis": null}, "text": {"field": "lab"}}}
  ]
},
{
  "width": 678, "height": 334,
  "resolve": {"axis": {"y": "independent"}},
  "layer": [
    {"data": {"name": "fit"}, "transform": [{"filter": "datum.p === 2"}],
     "mark": {"type": "line", "interpolate": "monotone", "strokeWidth": 4.3},
     "encoding": {
       "x": {"field": "v", "type": "quantitative", "scale": {"domain": [-5.08, 5.09], "nice": false, "zero": false}, "axis": null},
       "y": {"field": "t", "type": "quantitative", "scale": {"domain": [95.303, 101.23], "nice": false, "zero": false},
             "axis": {"orient": "left", "ticks": false, "labels": false, "title": "relative transmission / %", "titlePadding": 18, "titleY": 140}},
       "color": {"field": "s", "type": "nominal", "scale": {"domain": ["sub", "fit"], "range": ["#0b9de0", "#e3051b"]}, "legend": null}
     }},
    {"data": {"name": "pts"}, "transform": [{"filter": "datum.p === 2"}],
     "mark": {"type": "circle", "size": 12, "color": "#3a3a3a", "opacity": 1},
     "encoding": {
       "x": {"field": "v", "type": "quantitative", "axis": null},
       "y": {"field": "t", "type": "quantitative", "axis": {"orient": "right", "ticks": false, "labels": false, "title": null}}
     }},
    {"data": {"name": "bars"}, "transform": [{"filter": "datum.p === 2"}],
     "mark": {"type": "rule", "strokeWidth": 2.8, "color": "#2a2a2a"},
     "encoding": {"x": {"field": "v", "type": "quantitative", "axis": null}, "y": {"field": "lo", "type": "quantitative", "axis": null}, "y2": {"field": "hi"}}},
    {"data": {"name": "bars"}, "transform": [{"filter": "datum.p === 2"}],
     "mark": {"type": "rule", "strokeWidth": 3, "color": "#2a2a2a"},
     "encoding": {"x": {"field": "v1", "type": "quantitative", "axis": null}, "x2": {"field": "v2"}, "y": {"field": "lo", "type": "quantitative", "axis": null}}},
    {"data": {"name": "bars"}, "transform": [{"filter": "datum.p === 2"}],
     "mark": {"type": "rule", "strokeWidth": 3, "color": "#2a2a2a"},
     "encoding": {"x": {"field": "v1", "type": "quantitative", "axis": null}, "x2": {"field": "v2"}, "y": {"field": "hi", "type": "quantitative", "axis": null}}},
    {"data": {"name": "bars"}, "transform": [{"filter": "datum.p === 2"}],
     "mark": {"type": "text", "angle": 270, "fontSize": 29, "align": "center", "baseline": "middle"},
     "encoding": {"x": {"field": "vx", "type": "quantitative", "axis": null}, "y": {"field": "mid", "type": "quantitative", "axis": null}, "text": {"field": "lab"}}},
    {"data": {"name": "labels"}, "transform": [{"filter": "datum.p === 2"}],
     "mark": {"type": "text", "fontSize": 44, "align": "right", "baseline": "alphabetic"},
     "encoding": {"x": {"field": "v", "type": "quantitative", "axis": null}, "y": {"field": "t", "type": "quantitative", "axis": null}, "text": {"field": "lab"}}}
  ]
},
{
  "width": 678, "height": 371,
  "resolve": {"axis": {"y": "independent"}},
  "layer": [
    {"data": {"name": "fit"}, "transform": [{"filter": "datum.p === 3"}],
     "mark": {"type": "line", "interpolate": "monotone", "strokeWidth": 4.3},
     "encoding": {
       "x": {"field": "v", "type": "quantitative", "scale": {"domain": [-5.08, 5.09], "nice": false, "zero": false},
             "axis": {"orient": "bottom", "values": [-4,-3,-2,-1,0,1,2,3,4], "labelExpr": "datum.value % 2 === 0 ? '' + datum.value : ''", "labelPadding": 24, "title": "velocity /mm·s⁻¹", "titlePadding": 17}},
       "y": {"field": "t", "type": "quantitative", "scale": {"domain": [94.123, 101.279], "nice": false, "zero": false},
             "axis": {"orient": "left", "ticks": false, "labels": false, "title": null}},
       "color": {"field": "s", "type": "nominal", "scale": {"domain": ["sub", "fit"], "range": ["#0b9de0", "#e3051b"]}, "legend": null}
     }},
    {"data": {"name": "pts"}, "transform": [{"filter": "datum.p === 3"}],
     "mark": {"type": "circle", "size": 12, "color": "#3a3a3a", "opacity": 1},
     "encoding": {
       "x": {"field": "v", "type": "quantitative"},
       "y": {"field": "t", "type": "quantitative", "axis": {"orient": "right", "ticks": false, "labels": false, "title": null}}
     }},
    {"data": {"name": "bars"}, "transform": [{"filter": "datum.p === 3"}],
     "mark": {"type": "rule", "strokeWidth": 2.8, "color": "#2a2a2a"},
     "encoding": {"x": {"field": "v", "type": "quantitative"}, "y": {"field": "lo", "type": "quantitative", "axis": null}, "y2": {"field": "hi"}}},
    {"data": {"name": "bars"}, "transform": [{"filter": "datum.p === 3"}],
     "mark": {"type": "rule", "strokeWidth": 3, "color": "#2a2a2a"},
     "encoding": {"x": {"field": "v1", "type": "quantitative"}, "x2": {"field": "v2"}, "y": {"field": "lo", "type": "quantitative", "axis": null}}},
    {"data": {"name": "bars"}, "transform": [{"filter": "datum.p === 3"}],
     "mark": {"type": "rule", "strokeWidth": 3, "color": "#2a2a2a"},
     "encoding": {"x": {"field": "v1", "type": "quantitative"}, "x2": {"field": "v2"}, "y": {"field": "hi", "type": "quantitative", "axis": null}}},
    {"data": {"name": "bars"}, "transform": [{"filter": "datum.p === 3"}],
     "mark": {"type": "text", "angle": 270, "fontSize": 29, "align": "center", "baseline": "middle"},
     "encoding": {"x": {"field": "vx", "type": "quantitative"}, "y": {"field": "mid", "type": "quantitative", "axis": null}, "text": {"field": "lab"}}},
    {"data": {"name": "labels"}, "transform": [{"filter": "datum.p === 3"}],
     "mark": {"type": "text", "fontSize": 44, "align": "right", "baseline": "alphabetic"},
     "encoding": {"x": {"field": "v", "type": "quantitative"}, "y": {"field": "t", "type": "quantitative", "axis": null}, "text": {"field": "lab"}}}
  ]
}
]
}
